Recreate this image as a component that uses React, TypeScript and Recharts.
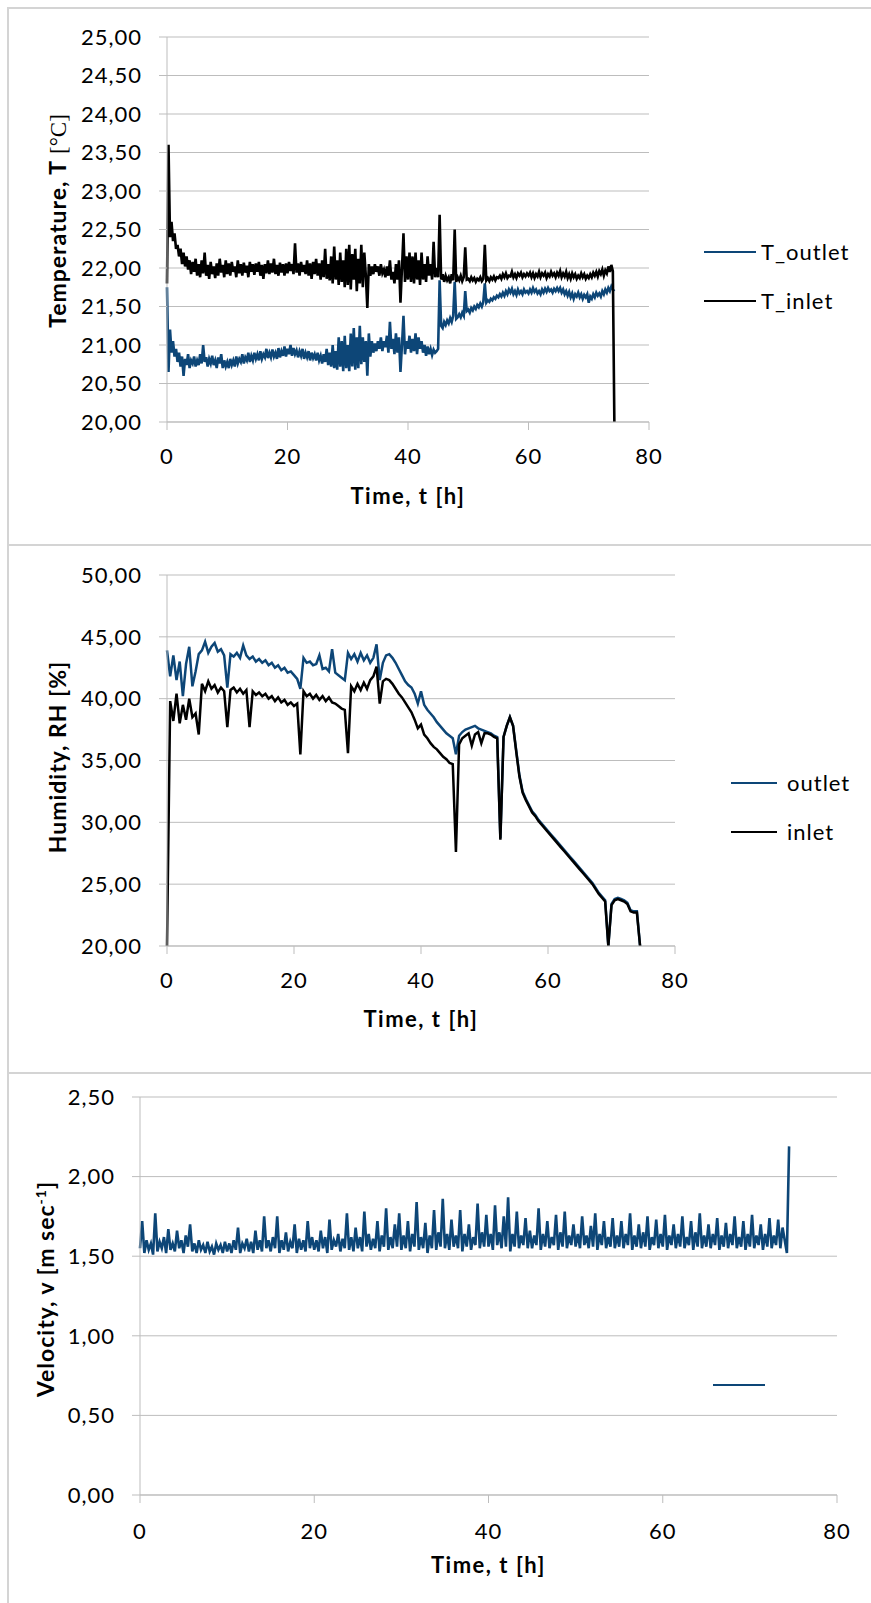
import React from 'react';
import { LineChart, Line, XAxis, YAxis, CartesianGrid, Legend } from 'recharts';

// logger readings: temperature and velocity every 15 min, humidity every 30 min
const quarterHours = Array.from({ length: 300 }, (_, i) => i / 4);
const halfHours = Array.from({ length: 150 }, (_, i) => i / 2);

const timeTicks = [0, 20, 40, 60, 80];
const tempTicks = [20, 20.5, 21, 21.5, 22, 22.5, 23, 23.5, 24, 24.5, 25];
const humTicks = [20, 25, 30, 35, 40, 45, 50];
const velTicks = [0, 0.5, 1, 1.5, 2, 2.5];

// temperature [°C], 15 min steps, one row = 5 h
const tempOutlet = [
  21.75, 20.65, 21.2, 20.9, 21.05, 20.85, 20.95, 20.78, 20.9, 20.72, 20.85, 20.6, 20.82, 20.74, 20.88, 20.7, 20.8, 20.76, 20.85, 20.72,
  20.8, 20.74, 20.88, 20.76, 21.0, 20.78, 20.84, 20.72, 20.82, 20.76, 20.86, 20.74, 20.8, 20.7, 20.84, 20.76, 20.88, 20.7, 20.8, 20.72,
  20.78, 20.7, 20.82, 20.74, 20.8, 20.72, 20.85, 20.76, 20.82, 20.78, 20.88, 20.76, 20.84, 20.8, 20.9, 20.78, 20.86, 20.8, 20.9, 20.82,
  20.88, 20.8, 20.92, 20.82, 20.88, 20.84, 20.95, 20.83, 20.9, 20.84, 20.94, 20.85, 20.9, 20.82, 20.96, 20.84, 20.92, 20.86, 20.98, 20.85,
  20.95, 20.88, 21.0, 20.86, 20.96, 20.88, 20.93, 20.84, 20.92, 20.86, 20.95, 20.82, 20.9, 20.84, 20.92, 20.8, 20.9, 20.83, 20.88, 20.8,
  20.9, 20.8, 20.86, 20.76, 20.88, 20.78, 20.95, 20.74, 20.9, 20.72, 21.0, 20.7, 20.92, 20.68, 21.1, 20.72, 21.05, 20.66, 21.12, 20.7,
  21.0, 20.66, 21.15, 20.72, 21.22, 20.68, 21.1, 20.7, 21.25, 20.75, 21.1, 20.78, 21.05, 20.6, 21.15, 20.85, 21.05, 20.9, 21.02, 20.92,
  21.05, 20.95, 21.1, 20.92, 21.05, 20.97, 21.12, 20.9, 21.3, 20.95, 21.08, 20.88, 21.15, 20.9, 21.1, 20.65, 21.0, 21.38, 20.88, 21.05,
  20.95, 21.12, 20.9, 21.08, 20.92, 21.15, 20.88, 21.1, 20.95, 21.05, 20.9, 21.0, 20.86, 20.98, 20.88, 20.95, 20.87, 20.94, 20.9, 20.92,
  20.95, 21.84, 21.25, 21.22, 21.3, 21.26, 21.32, 21.28, 21.35, 21.3, 21.38, 21.82, 21.34, 21.36, 21.4, 21.36, 21.42, 21.38, 21.7, 21.44,
  21.46, 21.42, 21.48, 21.45, 21.5, 21.47, 21.52, 21.49, 21.54, 21.5, 21.56, 21.8, 21.55, 21.58, 21.56, 21.6, 21.58, 21.62, 21.6, 21.64,
  21.62, 21.66, 21.63, 21.68, 21.64, 21.7, 21.66, 21.72, 21.68, 21.73, 21.66, 21.7, 21.65, 21.72, 21.67, 21.7, 21.66, 21.72, 21.68, 21.7,
  21.67, 21.72, 21.68, 21.74, 21.69, 21.72, 21.67, 21.7, 21.66, 21.72, 21.68, 21.73, 21.69, 21.74, 21.7, 21.72, 21.68, 21.73, 21.7, 21.74,
  21.7, 21.74, 21.68, 21.72, 21.66, 21.7, 21.64, 21.69, 21.62, 21.67, 21.6, 21.66, 21.63, 21.68, 21.62, 21.66, 21.6, 21.65, 21.62, 21.66,
  21.55, 21.63, 21.6, 21.66, 21.62, 21.68, 21.64, 21.67, 21.63, 21.7, 21.66, 21.72, 21.68, 21.74, 21.7, 21.76, 21.72, 21.7, null, null,
];
const tempInlet = [
  21.8, 23.6, 22.4, 22.6, 22.35, 22.45, 22.25, 22.3, 22.15, 22.25, 22.05, 22.2, 22.02, 22.15, 21.98, 22.1, 21.92, 22.08, 21.95, 22.12,
  21.9, 22.05, 21.88, 22.1, 21.93, 22.2, 21.9, 22.04, 21.86, 22.08, 21.92, 22.02, 21.87, 22.06, 21.9, 22.12, 21.94, 22.04, 21.88, 22.1,
  21.92, 22.06, 21.9, 22.08, 21.95, 22.02, 21.88, 22.1, 21.93, 22.05, 21.9, 22.07, 21.94, 22.03, 21.88, 22.08, 21.95, 22.05, 21.91, 22.06,
  21.95, 22.08, 21.9, 22.04, 21.86, 22.05, 21.93, 22.1, 21.92, 22.06, 21.94, 22.12, 21.92, 22.04, 21.9, 22.07, 21.94, 22.05, 21.9, 22.06,
  21.93, 22.08, 21.96, 22.05, 21.92, 22.32, 21.94, 22.06, 21.9, 22.08, 21.95, 22.04, 21.92, 22.1, 21.9, 22.06, 21.86, 22.08, 21.92, 22.12,
  21.9, 22.06, 21.85, 22.1, 21.88, 22.25, 21.86, 22.05, 21.84, 22.15, 21.8, 22.28, 21.85, 22.1, 21.78, 22.2, 21.82, 22.1, 21.75, 22.25,
  21.78, 22.3, 21.72, 22.18, 21.85, 22.25, 21.7, 22.12, 21.8, 22.3, 21.75, 22.2, 21.9, 21.48, 22.05, 21.9, 22.02, 21.92, 22.05, 21.95,
  22.02, 21.9, 22.05, 21.93, 21.98, 21.88, 22.02, 21.9, 22.1, 21.85, 21.95, 21.8, 22.05, 21.85, 22.1, 21.55, 22.0, 22.45, 21.82, 22.15,
  21.85, 22.2, 21.82, 22.15, 21.8, 22.2, 21.85, 22.1, 21.78, 22.2, 21.85, 22.05, 21.82, 22.15, 21.9, 22.05, 21.85, 22.34, 21.88, 22.0,
  21.88, 22.69, 21.85, 21.92, 21.82, 21.9, 21.84, 21.88, 21.8, 21.92, 21.84, 22.5, 21.82, 21.88, 21.84, 21.9, 21.83, 21.88, 22.27, 21.85,
  21.86, 21.83, 21.88, 21.84, 21.87, 21.82, 21.86, 21.84, 21.88, 21.83, 21.86, 22.3, 21.84, 21.87, 21.83, 21.88, 21.85, 21.89, 21.84, 21.88,
  21.87, 21.9, 21.86, 21.92, 21.88, 21.93, 21.87, 21.9, 21.89, 21.95, 21.88, 21.92, 21.87, 21.93, 21.9, 21.94, 21.88, 21.92, 21.89, 21.93,
  21.9, 21.94, 21.88, 21.93, 21.87, 21.92, 21.89, 21.95, 21.88, 21.93, 21.9, 21.94, 21.87, 21.92, 21.89, 21.95, 21.9, 21.93, 21.88, 21.94,
  21.9, 21.96, 21.88, 21.93, 21.89, 21.95, 21.87, 21.92, 21.86, 21.93, 21.88, 21.92, 21.86, 21.9, 21.87, 21.93, 21.88, 21.92, 21.86, 21.9,
  21.87, 21.92, 21.88, 21.94, 21.9, 21.95, 21.89, 21.96, 21.92, 21.98, 21.9, 21.97, 21.93, 22.02, 21.95, 22.04, 21.96, 20.0, null, null,
];

// relative humidity [%], 30 min steps, one row = 5 h
const humOutlet = [
  43.9, 41.8, 43.5, 41.5, 43.0, 40.2, 42.8, 44.2, 41.0, 42.2,
  43.6, 43.9, 44.6, 43.7, 44.2, 44.5, 43.8, 44.0, 43.5, 40.9,
  43.6, 43.4, 43.7, 43.3, 44.3, 43.5, 43.2, 43.4, 43.0, 43.2,
  42.9, 43.1, 42.7, 42.9, 42.5, 42.7, 42.3, 42.5, 42.1, 42.2,
  41.9, 41.6, 40.8, 43.3, 42.9, 43.0, 42.7, 42.8, 43.5, 42.4,
  42.5, 42.2, 44.0, 42.1, 41.9, 41.7, 41.5, 43.7, 43.2, 43.6,
  43.0, 43.7, 43.1, 43.5, 42.9, 43.3, 44.4, 41.5, 42.9, 43.5,
  43.6, 43.3, 42.9, 42.4, 41.9, 41.4, 41.1, 40.9, 40.4, 39.6,
  40.6, 39.5, 39.1, 38.8, 38.5, 38.1, 37.8, 37.5, 37.2, 37.0,
  36.8, 35.5, 37.0, 37.3, 37.5, 37.6, 37.7, 37.8, 37.6, 37.5,
  37.4, 37.3, 37.2, 37.0, 36.9, 28.7, 36.9, 37.8, 38.5, 37.8,
  35.8, 33.8, 32.5, 31.9, 31.4, 30.9, 30.6, 30.2, 29.9, 29.6,
  29.3, 29.0, 28.7, 28.4, 28.1, 27.8, 27.5, 27.2, 26.9, 26.6,
  26.3, 26.0, 25.7, 25.4, 25.1, 24.7, 24.3, 24.0, 23.7, 20.0,
  23.4, 23.8, 23.9, 23.8, 23.7, 23.5, 22.9, 22.8, 22.8, 20.0,
];
const humInlet = [
  20.0, 39.8, 38.2, 40.4, 38.0, 39.5, 38.3, 40.0, 38.5, 38.8,
  37.1, 41.2, 40.6, 41.4, 40.8, 41.1, 40.5, 40.9, 40.6, 37.7,
  40.7, 40.9, 40.5, 40.8, 40.4, 40.7, 37.7, 40.6, 40.3, 40.5,
  40.2, 40.4, 40.0, 40.2, 39.8, 40.1, 39.7, 39.9, 39.5, 39.7,
  39.4, 39.6, 35.5, 40.6, 40.2, 40.4, 40.0, 40.3, 39.9, 40.2,
  39.8, 40.1, 39.7, 39.6, 39.4, 39.2, 39.1, 35.6, 41.0, 40.6,
  41.2, 40.7, 41.3, 40.8, 41.5, 41.8, 42.6, 39.6, 41.4, 41.6,
  41.5, 41.2, 40.8, 40.4, 40.1, 39.7, 39.3, 38.9, 38.3, 37.6,
  37.9, 37.1, 36.8, 36.4, 36.1, 35.9, 35.6, 35.3, 35.1, 34.8,
  34.7, 27.6, 36.3, 36.8, 37.0, 37.2, 36.2, 37.1, 37.3, 36.4,
  37.2, 37.2, 37.1, 36.9, 36.8, 28.6, 36.9, 37.8, 38.5, 37.8,
  35.7, 33.7, 32.4, 31.8, 31.3, 30.8, 30.5, 30.1, 29.8, 29.5,
  29.2, 28.9, 28.6, 28.3, 28.0, 27.7, 27.4, 27.1, 26.8, 26.5,
  26.2, 25.9, 25.6, 25.3, 25.0, 24.6, 24.2, 23.9, 23.6, 20.0,
  23.3, 23.7, 23.8, 23.7, 23.6, 23.4, 22.8, 22.7, 22.7, 20.0,
];

// air velocity [m/s], 15 min steps, one row = 5 h
const velocity = [
  1.55, 1.72, 1.52, 1.6, 1.54, 1.58, 1.51, 1.77, 1.53, 1.59, 1.55, 1.62, 1.52, 1.67, 1.54, 1.58, 1.53, 1.66, 1.55, 1.6,
  1.52, 1.63, 1.56, 1.7, 1.53, 1.58, 1.52, 1.6, 1.54, 1.57, 1.52, 1.59, 1.53, 1.56, 1.51, 1.58, 1.54, 1.57, 1.52, 1.59,
  1.53, 1.58, 1.52, 1.6, 1.54, 1.68, 1.52, 1.58, 1.55, 1.61, 1.53, 1.59, 1.52, 1.66, 1.54, 1.6, 1.53, 1.75, 1.55, 1.6,
  1.53, 1.62, 1.55, 1.75, 1.52, 1.6, 1.54, 1.65, 1.53, 1.59, 1.55, 1.7, 1.52, 1.61, 1.54, 1.6, 1.53, 1.72, 1.55, 1.62,
  1.54, 1.6, 1.53, 1.66, 1.55, 1.62, 1.52, 1.73, 1.54, 1.6, 1.56, 1.64, 1.53, 1.61, 1.55, 1.77, 1.54, 1.62, 1.53, 1.68,
  1.55, 1.62, 1.53, 1.78, 1.56, 1.64, 1.54, 1.61, 1.55, 1.72, 1.53, 1.63, 1.56, 1.8, 1.54, 1.62, 1.55, 1.7, 1.56, 1.77,
  1.54, 1.63, 1.55, 1.72, 1.53, 1.64, 1.56, 1.84, 1.54, 1.62, 1.55, 1.71, 1.52, 1.63, 1.55, 1.79, 1.54, 1.65, 1.56, 1.86,
  1.55, 1.64, 1.54, 1.73, 1.56, 1.63, 1.55, 1.79, 1.53, 1.64, 1.56, 1.7, 1.54, 1.62, 1.57, 1.83, 1.55, 1.65, 1.56, 1.76,
  1.56, 1.64, 1.54, 1.82, 1.57, 1.65, 1.55, 1.75, 1.56, 1.87, 1.53, 1.64, 1.56, 1.78, 1.55, 1.63, 1.57, 1.74, 1.55, 1.66,
  1.55, 1.63, 1.57, 1.8, 1.54, 1.64, 1.56, 1.72, 1.55, 1.62, 1.57, 1.76, 1.54, 1.65, 1.56, 1.78, 1.55, 1.63, 1.57, 1.7,
  1.56, 1.64, 1.55, 1.75, 1.57, 1.63, 1.55, 1.69, 1.56, 1.77, 1.54, 1.64, 1.57, 1.72, 1.55, 1.62, 1.56, 1.74, 1.55, 1.63,
  1.56, 1.72, 1.55, 1.64, 1.57, 1.77, 1.54, 1.63, 1.56, 1.7, 1.55, 1.65, 1.56, 1.75, 1.54, 1.62, 1.57, 1.73, 1.55, 1.64,
  1.56, 1.76, 1.54, 1.63, 1.57, 1.7, 1.55, 1.64, 1.56, 1.75, 1.55, 1.62, 1.57, 1.72, 1.54, 1.65, 1.56, 1.77, 1.55, 1.63,
  1.56, 1.7, 1.55, 1.64, 1.57, 1.74, 1.54, 1.63, 1.56, 1.71, 1.55, 1.64, 1.57, 1.75, 1.55, 1.62, 1.56, 1.72, 1.54, 1.64,
  1.56, 1.76, 1.55, 1.63, 1.57, 1.7, 1.54, 1.64, 1.56, 1.74, 1.55, 1.63, 1.57, 1.73, 1.55, 1.68, 1.6, 1.52, 2.19, null,
];

const tempData = quarterHours.map((t, i) => ({ t, T_outlet: tempOutlet[i], T_inlet: tempInlet[i] }));
const humData = halfHours.map((t, i) => ({ t, outlet: humOutlet[i], inlet: humInlet[i] }));
const velData = quarterHours.map((t, i) => ({ t, v: velocity[i] }));

const BLUE = '#0d4677';
const GRID = '#bdbdbd';
const BORDER = '#d4d4d4';
const FONT = 'Lato, "Open Sans", sans-serif';

const comma = (v: number) => v.toFixed(2).replace('.', ',');

const tickStyle = { fontFamily: FONT, fontSize: 22, fill: '#000', letterSpacing: 1 };
const xTitle = { fontFamily: FONT, fontSize: 22, fontWeight: 700, fill: '#000', letterSpacing: 1.5 };

// Excel-style legend: short line sample + series name, one per row, in series order
const legendContent =
  (order: string[], rowHeight: number, lineLength: number, gap: number, showText = true) =>
  (props: any) => {
    const items = [...(props.payload || [])].sort(
      (a: any, b: any) => order.indexOf(String(a.dataKey)) - order.indexOf(String(b.dataKey)),
    );
    return (
      <div style={{ fontFamily: FONT, fontSize: 22, letterSpacing: 1, color: '#000' }}>
        {items.map((entry: any, i: number) => (
          <div key={i} style={{ display: 'flex', alignItems: 'center', height: rowHeight }}>
            <span style={{ display: 'inline-block', width: lineLength, height: 2, background: entry.color }} />
            {showText && <span style={{ marginLeft: gap, lineHeight: 1 }}>{entry.value}</span>}
          </div>
        ))}
      </div>
    );
  };

function YTitle({ cx, cy, children }: { cx: number; cy: number; children: React.ReactNode }) {
  return (
    <text
      x={cx}
      y={cy}
      dy="0.35em"
      textAnchor="middle"
      transform={`rotate(-90 ${cx} ${cy})`}
      fontFamily={FONT}
      fontSize={23}
      fontWeight={700}
      letterSpacing={1}
      fill="#000"
    >
      {children}
    </text>
  );
}

const line = (x: number, y: number, w: number, h: number) => (
  <div style={{ position: 'absolute', left: x, top: y, width: w, height: h, background: BORDER }} />
);

export default function App() {
  return (
    <div style={{ position: 'absolute', left: 0, top: 0, width: 871, height: 1603, background: '#fff', overflow: 'hidden' }}>
      {/* table cell borders around the three graphs */}
      {line(7, 7, 864, 2)}
      {line(7, 7, 2, 1596)}
      {line(7, 544, 864, 2)}
      {line(7, 1072, 864, 2)}

      {/* temperature */}
      <div style={{ position: 'absolute', left: 0, top: 0 }}>
        <LineChart width={871} height={545} data={tempData} margin={{ top: 37, right: 222, bottom: 0, left: 0 }}>
          <CartesianGrid vertical={false} stroke={GRID} />
          <XAxis
            dataKey="t"
            type="number"
            domain={[0, 80]}
            ticks={timeTicks}
            interval={0}
            height={123}
            tickSize={8}
            tickMargin={18}
            tick={tickStyle}
            tickLine={{ stroke: GRID }}
            axisLine={{ stroke: GRID }}
            label={{ value: 'Time, t [h]', position: 'insideTop', offset: 66, ...xTitle }}
          />
          <YAxis
            type="number"
            domain={[20, 25]}
            ticks={tempTicks}
            interval={0}
            width={167}
            tickSize={8}
            tickMargin={17}
            tickFormatter={comma}
            tick={tickStyle}
            tickLine={{ stroke: GRID }}
            axisLine={{ stroke: GRID }}
            label={() => (
              <YTitle cx={58} cy={221}>
                <tspan>Temperature, T </tspan>
                <tspan fontFamily="'Liberation Serif', serif" fontWeight={400} letterSpacing={0}>
                  [°C]
                </tspan>
              </YTitle>
            )}
          />
          <Legend
            align="center"
            verticalAlign="middle"
            content={legendContent(['T_outlet', 'T_inlet'], 49, 52, 5)}
            wrapperStyle={{ left: 704, top: 227.5, width: 'auto' }}
          />
          <Line type="linear" dataKey="T_outlet" stroke={BLUE} strokeWidth={2.6} dot={false} isAnimationActive={false} />
          <Line type="linear" dataKey="T_inlet" stroke="#000" strokeWidth={2.6} dot={false} isAnimationActive={false} />
        </LineChart>
      </div>

      {/* humidity */}
      <div style={{ position: 'absolute', left: 0, top: 545 }}>
        <LineChart width={871} height={528} data={humData} margin={{ top: 30, right: 196, bottom: 0, left: 0 }}>
          <CartesianGrid vertical={false} stroke={GRID} />
          <XAxis
            dataKey="t"
            type="number"
            domain={[0, 80]}
            ticks={timeTicks}
            interval={0}
            height={127}
            tickSize={8}
            tickMargin={18}
            tick={tickStyle}
            tickLine={{ stroke: GRID }}
            axisLine={{ stroke: GRID }}
            label={{ value: 'Time, t [h]', position: 'insideTop', offset: 65, ...xTitle }}
          />
          <YAxis
            type="number"
            domain={[20, 50]}
            ticks={humTicks}
            interval={0}
            width={167}
            tickSize={8}
            tickMargin={17}
            tickFormatter={comma}
            tick={tickStyle}
            tickLine={{ stroke: GRID }}
            axisLine={{ stroke: GRID }}
            label={() => (
              <YTitle cx={58} cy={212}>
                Humidity, RH [%]
              </YTitle>
            )}
          />
          <Legend
            align="center"
            verticalAlign="middle"
            content={legendContent(['outlet', 'inlet'], 49, 46, 10)}
            wrapperStyle={{ left: 731, top: 213.5, width: 'auto' }}
          />
          <Line type="linear" dataKey="outlet" stroke={BLUE} strokeWidth={2.5} dot={false} isAnimationActive={false} />
          <Line type="linear" dataKey="inlet" stroke="#000" strokeWidth={2.5} dot={false} isAnimationActive={false} />
        </LineChart>
      </div>

      {/* velocity */}
      <div style={{ position: 'absolute', left: 0, top: 1073 }}>
        <LineChart width={871} height={530} data={velData} margin={{ top: 24, right: 34, bottom: 0, left: 0 }}>
          <CartesianGrid vertical={false} stroke={GRID} />
          <XAxis
            dataKey="t"
            type="number"
            domain={[0, 80]}
            ticks={timeTicks}
            interval={0}
            height={108}
            tickSize={8}
            tickMargin={20}
            tick={tickStyle}
            tickLine={{ stroke: GRID }}
            axisLine={{ stroke: GRID }}
            label={{ value: 'Time, t [h]', position: 'insideTop', offset: 62, ...xTitle }}
          />
          <YAxis
            type="number"
            domain={[0, 2.5]}
            ticks={velTicks}
            interval={0}
            width={140}
            tickSize={8}
            tickMargin={17}
            tickFormatter={comma}
            tick={tickStyle}
            tickLine={{ stroke: GRID }}
            axisLine={{ stroke: GRID }}
            label={() => (
              <YTitle cx={46} cy={216}>
                <tspan>Velocity, v [m sec</tspan>
                <tspan dy={-8} fontSize={14}>-1</tspan>
                <tspan dy={8}>]</tspan>
              </YTitle>
            )}
          />
          <Legend
            align="center"
            verticalAlign="middle"
            content={legendContent(['v'], 20, 52, 0, false)}
            wrapperStyle={{ left: 713, top: 302, width: 'auto' }}
          />
          <Line type="linear" dataKey="v" name="velocity" stroke={BLUE} strokeWidth={2.6} dot={false} isAnimationActive={false} />
        </LineChart>
      </div>
    </div>
  );
}
